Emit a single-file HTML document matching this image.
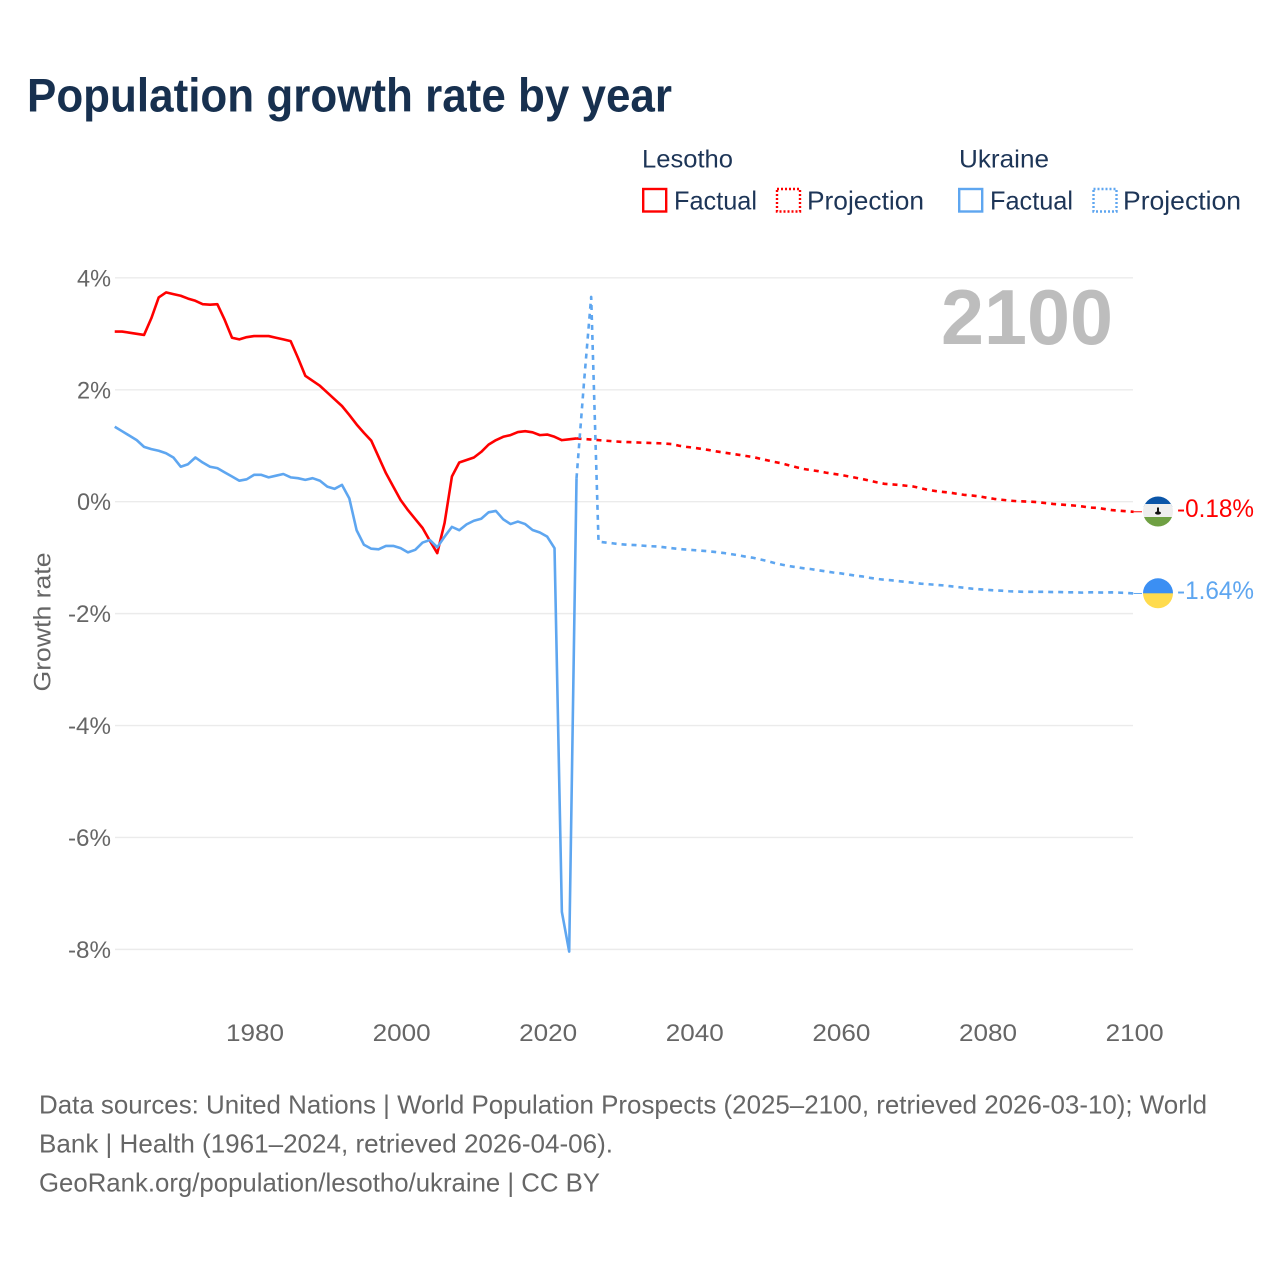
<!DOCTYPE html>
<html lang="en">
<head>
<meta charset="utf-8">
<title>Population growth rate by year</title>
<style>
html,body{margin:0;padding:0;background:#fff;}
svg{display:block;}
text{font-family:"Liberation Sans",sans-serif;}
</style>
</head>
<body>
<svg id="chart" xmlns="http://www.w3.org/2000/svg" width="1280" height="1280" viewBox="0 0 1280 1280">
  <rect width="1280" height="1280" fill="#fff"/>
  <text x="27" y="111.5" font-size="47" font-weight="700" fill="#17304f" textLength="645" lengthAdjust="spacingAndGlyphs">Population growth rate by year</text>

  <g>
    <text x="642" y="167.5" font-size="25" fill="#1d3557" textLength="91" lengthAdjust="spacingAndGlyphs">Lesotho</text>
    <rect x="643.2" y="189" width="23" height="22.5" fill="none" stroke="#ff0000" stroke-width="2.4"/>
    <text x="674" y="209.5" font-size="26" fill="#1d3557" textLength="83" lengthAdjust="spacingAndGlyphs">Factual</text>
    <rect x="777" y="189" width="23" height="22.5" fill="none" stroke="#ff0000" stroke-width="2.4" stroke-dasharray="2 2"/>
    <text x="807" y="209.5" font-size="26" fill="#1d3557" textLength="117" lengthAdjust="spacingAndGlyphs">Projection</text>

    <text x="959" y="167.5" font-size="25" fill="#1d3557" textLength="90" lengthAdjust="spacingAndGlyphs">Ukraine</text>
    <rect x="959.2" y="189" width="23" height="22.5" fill="none" stroke="#5ea6f0" stroke-width="2.4"/>
    <text x="990" y="209.5" font-size="26" fill="#1d3557" textLength="83" lengthAdjust="spacingAndGlyphs">Factual</text>
    <rect x="1093.5" y="189" width="23" height="22.5" fill="none" stroke="#5ea6f0" stroke-width="2.4" stroke-dasharray="2 2"/>
    <text x="1123" y="209.5" font-size="26" fill="#1d3557" textLength="118" lengthAdjust="spacingAndGlyphs">Projection</text>
  </g>

  <g id="grid"></g>
  <g id="yticks"></g>
  <g id="xticks"></g>

  <text transform="translate(50.5,622) rotate(-90)" text-anchor="middle" font-size="24" fill="#666" textLength="139" lengthAdjust="spacingAndGlyphs">Growth rate</text>
  <text x="941" y="344" font-size="78" font-weight="700" fill="#bdbdbd" textLength="172" lengthAdjust="spacingAndGlyphs">2100</text>

  <g id="series"></g>

  <defs>
    <clipPath id="flag-clip-ls"><circle cx="1158" cy="511.5" r="15"/></clipPath>
    <clipPath id="flag-clip-ua"><circle cx="1158" cy="593.3" r="15"/></clipPath>
  </defs>
  <g clip-path="url(#flag-clip-ls)">
    <rect x="1143" y="496" width="30" height="11" fill="#0a55a8"/>
    <rect x="1143" y="504" width="30" height="15" fill="#eeeeee"/>
    <rect x="1143" y="517" width="30" height="10" fill="#6fa043"/>
    <rect x="1157" y="507.5" width="2" height="5" fill="#111"/>
    <ellipse cx="1158" cy="513" rx="3" ry="1.6" fill="#111"/>
  </g>
  <g clip-path="url(#flag-clip-ua)">
    <rect x="1143" y="578" width="30" height="15.5" fill="#3b8ff3"/>
    <rect x="1143" y="593.3" width="30" height="15.5" fill="#ffdb4d"/>
  </g>
  <text x="1177" y="517" font-size="25" fill="#ff0000" textLength="77" lengthAdjust="spacingAndGlyphs">-0.18%</text>
  <text x="1177" y="599" font-size="25" fill="#5ea6f0" textLength="77" lengthAdjust="spacingAndGlyphs">-1.64%</text>

  <g>
    <text x="39" y="1113.5" font-size="26" fill="#666" textLength="1168" lengthAdjust="spacingAndGlyphs">Data sources: United Nations | World Population Prospects (2025–2100, retrieved 2026-03-10); World</text>
    <text x="39" y="1152.5" font-size="26" fill="#666" textLength="574" lengthAdjust="spacingAndGlyphs">Bank | Health (1961–2024, retrieved 2026-04-06).</text>
    <text x="39" y="1191.5" font-size="26" fill="#666" textLength="561" lengthAdjust="spacingAndGlyphs">GeoRank.org/population/lesotho/ukraine | CC BY</text>
  </g>
</svg>

<script>
const xTickYears = [1980, 2000, 2020, 2040, 2060, 2080, 2100];
const yTickValues = [4, 2, 0, -2, -4, -6, -8];
const yTickLabels = ["4%", "2%", "0%", "-2%", "-4%", "-6%", "-8%"];

const factualStartYear = 1961;
const projectionStartYear = 2024;

const lesothoFactual = [3.04,3.04,3.02,3.00,2.98,3.28,3.65,3.74,3.71,3.68,3.63,3.59,3.53,3.52,3.53,3.25,2.93,2.90,2.94,2.96,2.96,2.96,2.93,2.90,2.87,2.57,2.25,2.16,2.07,1.95,1.83,1.71,1.55,1.38,1.23,1.09,0.80,0.51,0.27,0.03,-0.15,-0.31,-0.47,-0.70,-0.92,-0.38,0.45,0.70,0.745,0.79,0.89,1.02,1.10,1.16,1.19,1.245,1.26,1.24,1.19,1.20,1.16,1.10,1.115,1.13];

const ukraineFactual = [1.34,1.26,1.18,1.10,0.98,0.94,0.91,0.865,0.79,0.625,0.67,0.79,0.70,0.625,0.60,0.525,0.45,0.375,0.40,0.48,0.48,0.435,0.465,0.495,0.435,0.42,0.39,0.42,0.375,0.27,0.23,0.30,0.06,-0.51,-0.77,-0.84,-0.85,-0.79,-0.79,-0.83,-0.905,-0.86,-0.73,-0.685,-0.815,-0.625,-0.45,-0.51,-0.405,-0.34,-0.305,-0.19,-0.165,-0.315,-0.40,-0.355,-0.40,-0.505,-0.55,-0.625,-0.83,-7.33,-8.04,0.42];

const lesothoProjection = [1.13,1.12,1.11,1.10,1.09,1.08,1.07,1.065,1.06,1.055,1.05,1.045,1.04,1.03,1.00,0.98,0.965,0.945,0.925,0.90,0.88,0.86,0.84,0.82,0.80,0.77,0.74,0.71,0.685,0.65,0.615,0.585,0.565,0.545,0.52,0.50,0.48,0.455,0.43,0.405,0.375,0.345,0.32,0.31,0.30,0.285,0.27,0.24,0.21,0.19,0.175,0.16,0.14,0.12,0.11,0.095,0.07,0.05,0.035,0.02,0.01,0.005,0.0,-0.01,-0.025,-0.04,-0.05,-0.06,-0.07,-0.085,-0.105,-0.11,-0.13,-0.15,-0.16,-0.17,-0.18];

const ukraineProjection = [0.42,2.1,3.66,-0.715,-0.73,-0.745,-0.76,-0.77,-0.775,-0.785,-0.795,-0.80,-0.815,-0.83,-0.845,-0.855,-0.865,-0.875,-0.885,-0.90,-0.915,-0.935,-0.955,-0.98,-1.00,-1.03,-1.06,-1.095,-1.125,-1.15,-1.17,-1.19,-1.205,-1.225,-1.245,-1.265,-1.28,-1.30,-1.32,-1.335,-1.36,-1.38,-1.395,-1.405,-1.42,-1.435,-1.45,-1.465,-1.475,-1.485,-1.495,-1.51,-1.525,-1.54,-1.555,-1.565,-1.575,-1.585,-1.59,-1.60,-1.605,-1.61,-1.61,-1.61,-1.61,-1.615,-1.615,-1.62,-1.62,-1.625,-1.62,-1.62,-1.625,-1.62,-1.625,-1.63,-1.64];

const SVG_NS = "http://www.w3.org/2000/svg";
const RED = "#ff0000";
const BLUE = "#5ea6f0";

function xScale(year) { return 254 + (year - 1980) * 7.33; }
function yScale(value) { return 501.7 - value * 55.96; }

function linePath(values, startYear) {
  return values.map(function (v, i) {
    return (i === 0 ? "M" : "L") + xScale(startYear + i).toFixed(2) + " " + yScale(v).toFixed(2);
  }).join(" ");
}

function addLine(parent, d, color, dashed) {
  const p = document.createElementNS(SVG_NS, "path");
  p.setAttribute("d", d);
  p.setAttribute("fill", "none");
  p.setAttribute("stroke", color);
  p.setAttribute("stroke-width", "2.6");
  p.setAttribute("stroke-linejoin", "round");
  if (dashed) p.setAttribute("stroke-dasharray", "5 5");
  parent.appendChild(p);
  return p;
}

const gridGroup = document.getElementById("grid");
const yTickGroup = document.getElementById("yticks");
const xTickGroup = document.getElementById("xticks");
const seriesGroup = document.getElementById("series");

yTickValues.forEach(function (v, i) {
  const line = document.createElementNS(SVG_NS, "line");
  line.setAttribute("x1", 115);
  line.setAttribute("x2", 1133);
  line.setAttribute("y1", yScale(v));
  line.setAttribute("y2", yScale(v));
  line.setAttribute("stroke", "#ebebeb");
  line.setAttribute("stroke-width", "1.4");
  
  
  gridGroup.appendChild(line);

  const label = document.createElementNS(SVG_NS, "text");
  label.setAttribute("x", 111);
  label.setAttribute("y", yScale(v) + 8.5);
  label.setAttribute("text-anchor", "end");
  label.setAttribute("font-size", "24");
  label.setAttribute("fill", "#666");
  label.setAttribute("textLength", yTickLabels[i].length === 2 ? 34 : 43);
  label.setAttribute("lengthAdjust", "spacingAndGlyphs");
  label.textContent = yTickLabels[i];
  
  
  yTickGroup.appendChild(label);
});

xTickYears.forEach(function (year) {
  const label = document.createElementNS(SVG_NS, "text");
  label.setAttribute("x", xScale(year) + 1);
  label.setAttribute("y", 1041);
  label.setAttribute("text-anchor", "middle");
  label.setAttribute("font-size", "24");
  label.setAttribute("fill", "#666");
  label.setAttribute("textLength", 58);
  label.setAttribute("lengthAdjust", "spacingAndGlyphs");
  label.textContent = String(year);
  
  
  xTickGroup.appendChild(label);
});

const lesothoFactualLine = addLine(seriesGroup, linePath(lesothoFactual, factualStartYear), RED, false);



const ukraineFactualLine = addLine(seriesGroup, linePath(ukraineFactual, factualStartYear), BLUE, false);



const lesothoProjectionLine = addLine(seriesGroup, linePath(lesothoProjection, projectionStartYear), RED, true);



const ukraineProjectionLine = addLine(seriesGroup, linePath(ukraineProjection, projectionStartYear), BLUE, true);



const lesothoEnd = lesothoProjection[lesothoProjection.length - 1];
const ukraineEnd = ukraineProjection[ukraineProjection.length - 1];

const lesothoConnector = document.createElementNS(SVG_NS, "line");
lesothoConnector.setAttribute("x1", xScale(2100));
lesothoConnector.setAttribute("x2", 1142);
lesothoConnector.setAttribute("y1", yScale(lesothoEnd));
lesothoConnector.setAttribute("y2", yScale(lesothoEnd));
lesothoConnector.setAttribute("stroke", RED);
lesothoConnector.setAttribute("stroke-width", "1");


seriesGroup.appendChild(lesothoConnector);

const ukraineConnector = document.createElementNS(SVG_NS, "line");
ukraineConnector.setAttribute("x1", xScale(2100));
ukraineConnector.setAttribute("x2", 1142);
ukraineConnector.setAttribute("y1", yScale(ukraineEnd));
ukraineConnector.setAttribute("y2", yScale(ukraineEnd));
ukraineConnector.setAttribute("stroke", BLUE);
ukraineConnector.setAttribute("stroke-width", "1");


seriesGroup.appendChild(ukraineConnector);
</script>
</body>
</html>
